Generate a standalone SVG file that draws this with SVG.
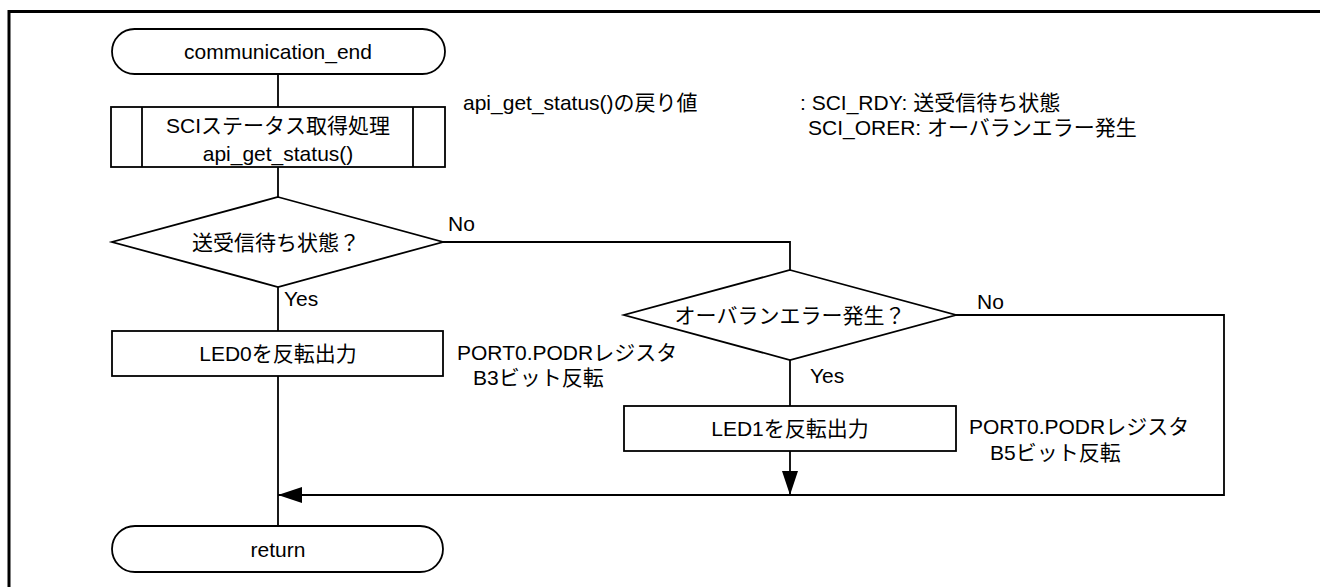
<svg xmlns="http://www.w3.org/2000/svg" width="1320" height="587" viewBox="0 0 1320 587">
<style>
.s{fill:#fff;stroke:#000;stroke-width:1.8}
.c{fill:none;stroke:#000;stroke-width:1.8}
text{font-family:"Liberation Sans","Noto Sans CJK JP",sans-serif;font-size:21px;fill:#000}
.m{text-anchor:middle}
</style>
<defs>
<marker id="ah" viewBox="0 0 24 16" refX="24" refY="8" markerWidth="24" markerHeight="16" markerUnits="userSpaceOnUse" orient="auto">
<path d="M0,0 L24,8 L0,16 Z" fill="#000"/>
</marker>
</defs>
<rect x="9" y="11.5" width="1330" height="600" fill="none" stroke="#000" stroke-width="3"/>
<g id="connectors">
<line class="c" x1="278" y1="74" x2="278" y2="107"/>
<line class="c" x1="278" y1="167" x2="278" y2="197"/>
<line class="c" x1="278" y1="287" x2="278" y2="331"/>
<line class="c" x1="278" y1="376" x2="278" y2="526"/>
<polyline class="c" points="443,242 790,242 790,270"/>
<line class="c" x1="790" y1="360" x2="790" y2="406"/>
<line class="c" x1="790" y1="451" x2="790" y2="495" marker-end="url(#ah)"/>
<polyline class="c" points="956,315 1224,315 1224,495 278,495" marker-end="url(#ah)"/>
</g>
<g id="start">
<rect class="s" x="112" y="29" width="333" height="45" rx="22.5" ry="22.5"/>
<text class="m" x="278" y="59">communication_end</text>
</g>
<g id="get_status">
<rect class="s" x="111" y="107" width="334" height="60"/>
<line class="c" x1="142" y1="107" x2="142" y2="167"/>
<line class="c" x1="413" y1="107" x2="413" y2="167"/>
<text class="m" x="278" y="133">SCIステータス取得処理</text>
<text class="m" x="278" y="161">api_get_status()</text>
</g>
<g id="note_status">
<text x="463" y="110">api_get_status()の戻り値</text>
<text x="800" y="110">: SCI_RDY: 送受信待ち状態</text>
<text x="808" y="135">SCI_ORER: オーバランエラー発生</text>
</g>
<g id="dec_ready">
<polygon class="s" points="278,197 443,242 278,287 112,242"/>
<text class="m" x="276" y="250">送受信待ち状態？</text>
<text x="448" y="231">No</text>
<text x="284" y="306">Yes</text>
</g>
<g id="led0">
<rect class="s" x="112" y="331" width="331" height="45"/>
<text class="m" x="278" y="361">LED0を反転出力</text>
<text x="457" y="360">PORT0.PODRレジスタ</text>
<text x="473" y="385">B3ビット反転</text>
</g>
<g id="dec_orer">
<polygon class="s" points="790,270 956,315 790,360 624,315"/>
<text class="m" x="790" y="323">オーバランエラー発生？</text>
<text x="977" y="309">No</text>
<text x="810" y="383">Yes</text>
</g>
<g id="led1">
<rect class="s" x="624" y="406" width="332" height="45"/>
<text class="m" x="790" y="436">LED1を反転出力</text>
<text x="969" y="434">PORT0.PODRレジスタ</text>
<text x="990" y="460">B5ビット反転</text>
</g>
<g id="end">
<rect class="s" x="112" y="526" width="331" height="46" rx="23" ry="23"/>
<text class="m" x="278" y="557">return</text>
</g>
</svg>
